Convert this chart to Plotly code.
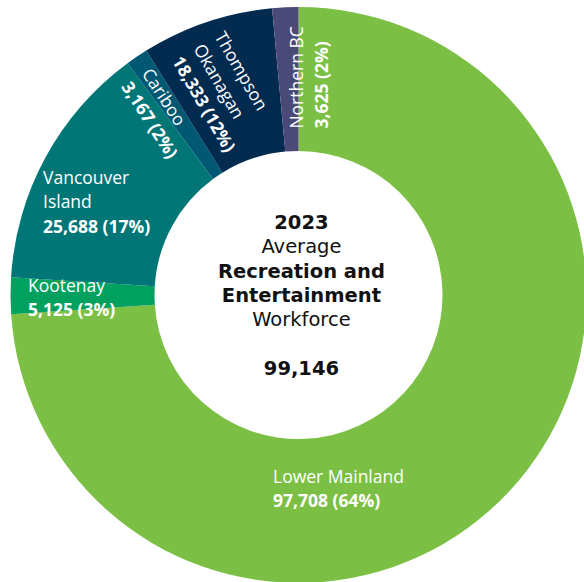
import math
import plotly.graph_objects as go

# ---- data ----
regions = ["Lower Mainland", "Kootenay", "Vancouver Island", "Cariboo",
           "Thompson Okanagan", "Northern BC"]
workers = [97708, 5125, 25688, 3167, 18333, 3625]
# share of the circle each slice occupies as drawn in the reference (percent)
arc_share = [73.9, 2.05, 13.9, 1.25, 7.4, 1.46]
center_year = "2023"
center_total = 99146

colors = ["#7BBF44", "#00A05F", "#007677", "#005873", "#032B4F", "#4B4978"]

total = sum(workers)
pcts = [round(100 * v / total) for v in workers]

# ---- layout geometry (the ring is slightly cropped on the right/bottom) ----
W, H = 587, 583
ML, MR, MT, MB = 10, 0, 7, 0
PW, PH = W - ML - MR, H - MT - MB
CX, CY = ML + PW / 2, MT + PH / 2


def to_paper(angle_cw_from_top, r_px, dx=0.0, dy=0.0):
    a = math.radians(angle_cw_from_top)
    px = CX + r_px * math.sin(a) + dx
    py = CY - r_px * math.cos(a) + dy
    return (px - ML) / PW, 1 - (py - MT) / PH


# label placement style: (angle clockwise from top, radius px, text angle, x anchor)
label_style = [
    (188.1, 195, 0, "left"),
    (269.6, 273, 0, "left"),
    (289.9, 274, 0, "left"),
    (322.9, 228, 57, "center"),
    (340.3, 216, 60, "center"),
    (2.6, 218, -90, "center"),
]
name_breaks = {"Vancouver Island": "Vancouver<br>Island",
               "Thompson Okanagan": "Thompson<br>Okanagan"}

FONT = "Open Sans"
LBL = "font-size:17.5px"

fig = go.Figure(go.Pie(
    labels=regions,
    values=arc_share,
    customdata=workers,
    sort=False,
    direction="clockwise",
    rotation=0,
    hole=0.5,
    marker=dict(colors=colors, line=dict(width=0)),
    textinfo="none",
    hoverinfo="skip",
    showlegend=False,
    domain=dict(x=[0, 1], y=[0, 1]),
))

annotations = []
for name, v, p, (ang, r, ta, xa) in zip(regions, workers, pcts, label_style):
    disp = name_breaks.get(name, name)
    txt = (f"<span style='{LBL}'>{disp}</span><br>"
           f"<span style='{LBL}'><b>{v:,} ({p}%)</b></span>")
    x, y = to_paper(ang, r)
    annotations.append(dict(
        text=txt, x=x, y=y, xref="paper", yref="paper",
        xanchor=xa, yanchor="middle", align="left",
        textangle=ta, showarrow=False,
        font=dict(family=FONT, size=18.8, color="#FFFFFF"),
    ))

CT = "font-size:19.5px"
center_txt = (f"<span style='{CT}'><b>{center_year}</b></span><br>"
              f"<span style='{CT}'>Average</span><br>"
              f"<span style='{CT}'><b>Recreation and</b></span><br>"
              f"<span style='{CT}'><b>Entertainment</b></span><br>"
              f"<span style='{CT}'>Workforce</span><br>"
              f"<span style='{CT}'> </span><br>"
              f"<span style='{CT}'><b>{center_total:,}</b></span>")
cx, cy = to_paper(0, 0, dx=3, dy=0)
annotations.append(dict(
    text=center_txt, x=cx, y=cy, xref="paper", yref="paper",
    xanchor="center", yanchor="middle", align="center", showarrow=False,
    font=dict(family="DejaVu Sans", size=18.7, color="#111111"),
))

fig.update_layout(
    width=W, height=H,
    margin=dict(l=ML, r=MR, t=MT, b=MB, autoexpand=False),
    paper_bgcolor="#FFFFFF",
    plot_bgcolor="#FFFFFF",
    annotations=annotations,
    font=dict(family=FONT),
)

fig.write_html(
    "out.html",
    config={"displayModeBar": False},
    post_script=(
        "document.body.style.margin='0';"
        "document.body.style.overflow='hidden';"
        "document.documentElement.style.overflow='hidden';"
    ),
)
